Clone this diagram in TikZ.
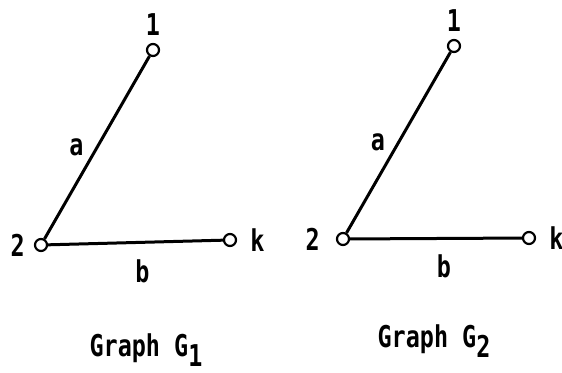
\documentclass[tikz,border=0pt]{standalone}
\usepackage{fontspec}
\setmainfont[FakeStretch=0.78]{DejaVu Sans Mono}
\usetikzlibrary{positioning}

\tikzset{
  vert/.style={circle, draw, line width=2.2pt, fill=white,
               minimum size=12pt, inner sep=0},
  edge/.style={line width=3pt},
  lab/.style={font=\fontsize{30}{34}\selectfont\bfseries, inner sep=0},
}
\newcommand{\subdigit}[1]{\raisebox{-0.34em}{#1}}

\begin{document}
\begin{tikzpicture}[x=1pt, y=-1pt]
\useasboundingbox (0,0) rectangle (562,372);

% graph G1
\node[vert] (g1one) at (153,50) {};
\node[vert] (g1two) at (41,245) {};
\node[vert] (g1k)   at (230,240) {};
\node[lab, above=7pt of g1one] (g1onelab) {1};
\node[lab, left=9pt of g1two]  (g1twolab) {2};
\node[lab, right=13pt of g1k]  (g1klab)   {k};
\draw[edge] (g1two) -- node[lab, left=12pt] {a} (g1one);
\draw[edge] (g1two) -- node[lab, below=16pt, xshift=7pt] {b} (g1k);
\node[lab, anchor=base] (g1cap) at (146,356) {Graph G\subdigit{1}};

% graph G2
\node[vert] (g2one) at (454,46) {};
\node[vert] (g2two) at (343,239) {};
\node[vert] (g2k)   at (529,238) {};
\node[lab, above=7pt of g2one] (g2onelab) {1};
\node[lab, left=16pt of g2two] (g2twolab) {2};
\node[lab, right=13pt of g2k]  (g2klab)   {k};
\draw[edge] (g2two) -- node[lab, left=12pt] {a} (g2one);
\draw[edge] (g2two) -- node[lab, below=15pt, xshift=8pt] {b} (g2k);
\node[lab, anchor=base] (g2cap) at (434,347) {Graph G\subdigit{2}};

\end{tikzpicture}
\end{document}
